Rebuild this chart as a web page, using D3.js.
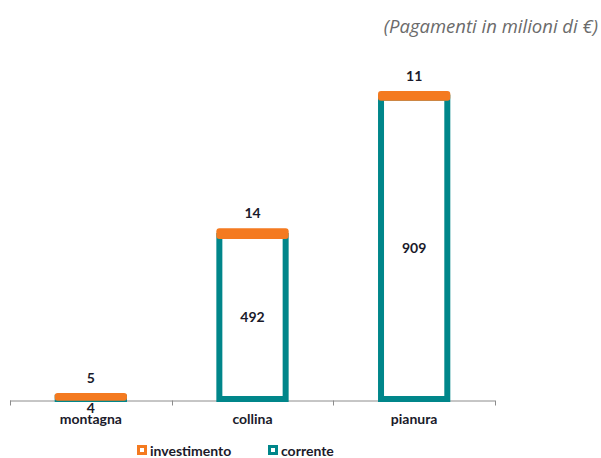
<!DOCTYPE html>
<html><head><meta charset="utf-8">
<script src="https://cdn.jsdelivr.net/npm/d3@7"></script>
<style>body{margin:0;background:#fff}</style>
</head><body>
<svg id="c" width="601" height="458"></svg>
<script>
const categories = ["montagna", "collina", "pianura"];
const corrente = [4, 492, 909];
const investimento = [5, 14, 11];
const seriesNames = ["investimento", "corrente"];
const title = "(Pagamenti in milioni di €)";

const TEAL = "#00868A", ORANGE = "#F47A20";
const svg = d3.select("#c");
const x = d3.scaleBand().domain(categories).range([10, 495]).padding(0);
const y = d3.scaleLinear().domain([0, 1000]).range([399, 67.5]);
const bw = x.bandwidth() * 0.41;

const data = categories.map((c, i) => ({c, cor: corrente[i], inv: investimento[i]}));

// title
svg.append("text").attr("x", 598).attr("y", 33).attr("text-anchor", "end")
  .attr("font-family", "Open Sans").attr("font-style", "italic").attr("font-size", 18.5)
  .attr("fill", "#6b6b6b").text(title);

// axis
const axis = d3.axisBottom(x).tickSize(5).tickFormat("");
const gA = svg.append("g").attr("transform", "translate(0,400.5)").call(axis);
gA.select(".domain").attr("stroke", "#8c8c8c");
gA.selectAll(".tick").remove();
const edges = [x.range()[0], ...categories.slice(1).map(c => x(c)), x.range()[1]];
gA.selectAll("line.t").data(edges).join("line").attr("class", "t")
  .attr("x1", d => Math.round(d) + 0.5).attr("x2", d => Math.round(d) + 0.5)
  .attr("y1", 0).attr("y2", 5).attr("stroke", "#8c8c8c");
gA.select(".domain").attr("d", `M${x.range()[0]},0.5H${x.range()[1]}`);

// corrente bars
const g = svg.append("g");
g.selectAll("rect.cor").data(data).join("rect").attr("class", "cor")
  .attr("x", d => x(d.c) + (x.bandwidth() - bw) / 2)
  .attr("width", bw)
  .attr("y", d => y(d.cor))
  .attr("height", d => y(0) - y(d.cor))
  .attr("fill", "#fff").attr("stroke", TEAL).attr("stroke-width", 6);

g.selectAll("rect.inv").data(data).join("rect").attr("class", "inv")
  .attr("x", d => x(d.c) + (x.bandwidth() - bw) / 2)
  .attr("width", bw)
  .attr("y", d => y(d.cor + d.inv))
  .attr("height", d => y(d.cor) - y(d.cor + d.inv))
  .attr("fill", ORANGE).attr("stroke", ORANGE).attr("stroke-width", 6)
  .attr("stroke-linejoin", "round");

// labels
const lab = svg.append("g").attr("font-family", "Lato").attr("font-weight", "bold")
  .attr("font-size", 14).attr("fill", "#1a1a2a").attr("text-anchor", "middle");
lab.selectAll("text.li").data(data).join("text").attr("class", "li")
  .attr("x", d => x(d.c) + x.bandwidth() / 2)
  .attr("y", d => y(d.cor + d.inv) - 18 + 5)
  .text(d => d.inv);
lab.selectAll("text.lc").data(data).join("text").attr("class", "lc")
  .attr("x", d => x(d.c) + x.bandwidth() / 2)
  .attr("y", d => {
    const h = y(0) - y(d.cor);
    return h < 10 ? y(0) + 14 : (y(0) + y(d.cor)) / 2 + 5;
  })
  .text(d => d.cor);
lab.selectAll("text.cat").data(categories).join("text").attr("class", "cat")
  .attr("x", d => x(d) + x.bandwidth() / 2).attr("y", 424).text(d => d);

// legend
const colors = [ORANGE, TEAL];
const lx = [137, 268];
const lg = svg.append("g").selectAll("g").data(seriesNames).join("g")
  .attr("transform", (d, i) => `translate(${lx[i]},445)`);
lg.append("rect").attr("x", 1.5).attr("y", 1.5).attr("width", 7).attr("height", 7)
  .attr("fill", "#fff").attr("stroke", (d, i) => colors[i]).attr("stroke-width", 3);
lg.append("text").attr("x", 13).attr("y", 10.5).attr("font-family", "Lato")
  .attr("font-weight", "bold").attr("font-size", 14).attr("fill", "#1a1a2a").text(d => d);
</script>
</body></html>
